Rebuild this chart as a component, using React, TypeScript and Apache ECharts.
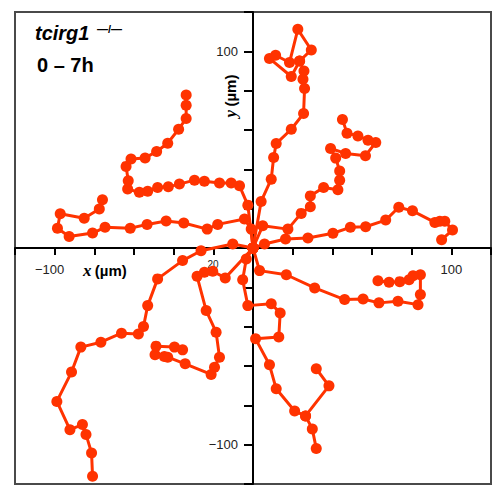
import React, { useEffect, useRef } from "react";
import * as echarts from "echarts";

const trackA: number[][] = [[0,0],[-2.6,21.8],[-6.8,31.6],[-11.0,33.0],[-16.9,33.0],[-24.5,33.9],[-29.5,34.5],[-37.1,32.5],[-42.7,31.1],[-48.1,30.8],[-53.1,28.9],[-57.3,28.3],[-63.2,30.0],[-62.9,34.2],[-64.0,41.5],[-61.5,45.2],[-54.4,45.8],[-48.6,49.1],[-43.0,53.3],[-37.5,60.4],[-33.7,65.8],[-33.7,72.6],[-33.7,77.8]];
const trackB: number[][] = [[0,0],[-0.9,9.6],[-4.3,14.7],[-17.8,12.0],[-23.1,9.6],[-34.9,12.7],[-43.8,13.7],[-53.4,12.0],[-61.9,10.0],[-74.6,10.5],[-80.9,7.6],[-92.7,5.9],[-98.6,10.0],[-97.2,17.4],[-85.1,15.1],[-77.5,19.8],[-75.9,24.5]];
const trackC: number[][] = [[0,0],[-10.2,2.0],[-26.2,-1.4],[-35.5,-6.4],[-48.1,-15.7],[-53.1,-29.3],[-55.2,-39.9],[-57.8,-43.7],[-66.3,-43.3],[-76.7,-47.9],[-86.8,-50.4],[-91.5,-63.1],[-98.9,-78.0],[-92.3,-92.4],[-86.0,-89.8],[-84.2,-94.8],[-81.4,-104.2],[-80.9,-116.1]];
const trackD: number[][] = [[0,0],[-14.0,-15.2],[-20.3,-11.8],[-24.5,-12.3],[-28.2,-14.4],[-23.6,-31.8],[-18.6,-42.8],[-16.9,-55.5],[-19.4,-60.6],[-21.1,-64.3],[-34.2,-58.9],[-43.0,-55.5],[-44.7,-55.2],[-49.4,-54.3],[-48.9,-49.9],[-39.6,-50.4],[-35.5,-51.8]];
const trackE: number[][] = [[0,0],[-3.4,-5.6],[-5.2,-16.2],[-2.6,-29.3],[9.2,-28.4],[13.7,-33.0],[13.0,-45.3],[1.3,-46.2],[8.3,-59.4],[11.7,-71.6],[21.0,-82.9],[26.5,-85.4],[29.9,-92.0],[31.9,-102.0]];
const trackE2: number[][] = [[26.5,-85.4],[38.3,-70.1],[31.9,-61.4]];
const trackF: number[][] = [[0,0],[3.3,-11.5],[16.8,-13.6],[31.1,-20.3],[46.2,-26.2],[55.5,-25.9],[63.5,-27.9],[73.1,-27.1],[83.2,-28.8],[84.4,-23.7],[84.4,-13.6],[80.7,-14.1],[78.7,-16.1],[74.0,-17.1],[68.6,-17.4],[63.0,-16.6]];
const trackG: number[][] = [[0,0],[5.8,2.0],[16.4,4.6],[27.7,5.1],[40.3,7.5],[49.1,10.5],[56.8,10.8],[66.9,14.2],[73.5,20.7],[80.4,18.9],[91.7,13.0],[94.2,13.6],[96.7,13.6],[100.6,9.1],[95.1,4.2]];
const trackH: number[][] = [[0,0],[4.9,11.3],[17.6,9.6],[24.3,17.6],[28.9,21.0],[28.9,26.5],[35.6,30.8],[42.8,29.6],[43.7,34.5],[43.7,39.2],[41.7,45.7],[39.1,50.6],[46.7,48.1],[56.7,46.9],[61.9,53.7],[58.0,54.8],[52.9,57.0],[47.4,58.4],[45.1,65.3]];
const trackI: number[][] = [[0,0],[4.1,23.7],[9.2,35.0],[10.4,46.0],[11.7,53.1],[19.3,60.4],[25.5,68.4],[26.0,81.1],[25.2,85.8],[25.7,90.0],[23.5,95.1],[19.3,87.2],[8.3,96.4],[11.4,98.0],[18.4,94.3],[22.6,111.2],[29.4,100.7],[23.5,95.1]];

const tracks = [trackA, trackB, trackC, trackD, trackE, trackE2, trackF, trackG, trackH, trackI];

const xLabels: Record<number, string> = { [-100]: "{n|−100}", 100: "{p|100}" };
const yLabels: Record<number, string> = { [-100]: "−100", 100: "100" };

const COLOR = "#ff3300";
const SANS = "'Liberation Sans', Arial, sans-serif";
const SERIF = "'Liberation Serif', 'Times New Roman', serif";

const GRID = { left: 15, top: 12, right: 10, bottom: 11 };
const W = 501, H = 495;

export default function App() {
  const ref = useRef<HTMLDivElement>(null);
  useEffect(() => {
    if (!ref.current) return;
    const chart = echarts.init(ref.current, null, { renderer: "svg" });
    const gh = H - GRID.top - GRID.bottom;
    const gw = W - GRID.left - GRID.right;
    chart.setOption({
      animation: false,
      grid: { ...GRID, show: true, borderColor: "#4a4a4a", borderWidth: 2, outerBoundsMode: "none", containLabel: false },
      xAxis: {
        type: "value", min: -120, max: 120, interval: 20,
        position: "bottom", offset: -gh / 2,
        axisLine: { onZero: false, lineStyle: { color: "#000", width: 2 } },
        axisTick: { show: true, length: 7, lineStyle: { color: "#000", width: 2 } },
        splitLine: { show: false },
        axisLabel: {
          margin: 15, fontSize: 13, color: "#222", fontFamily: SANS,
          formatter: (v: number) => xLabels[v] ?? "",
          rich: {
            n: { fontSize: 13, color: "#222", fontFamily: SANS, padding: [0, 10, 0, 0] },
            p: { fontSize: 13, color: "#222", fontFamily: SANS },
          },
        },
      },
      yAxis: {
        type: "value", min: -120, max: 120, interval: 20,
        position: "left", offset: -gw / 2,
        axisLine: { onZero: false, lineStyle: { color: "#000", width: 2 } },
        axisTick: { show: true, length: 9, lineStyle: { color: "#000", width: 2 } },
        splitLine: { show: false },
        axisLabel: {
          margin: 15, fontSize: 13, color: "#222", fontFamily: SANS,
          formatter: (v: number) => yLabels[v] ?? "",
        },
      },
      series: tracks.map((t) => ({
        type: "line",
        data: t,
        symbol: "circle",
        symbolSize: 11,
        showSymbol: true,
        color: COLOR,
        itemStyle: { color: COLOR },
        lineStyle: { color: COLOR, width: 3 },
        z: 3,
      })),
      graphic: [
        { type: "text", left: 35, top: 23, style: { text: "tcirg1", font: `italic bold 20px ${SANS}`, fill: "#000" } },
        { type: "text", left: 97, top: 23, style: { text: "—/—", font: `bold 11px ${SANS}`, fill: "#000" } },
        { type: "text", left: 37, top: 55, style: { text: "0 – 7h", font: `bold 20px ${SANS}`, fill: "#000" } },
        {
          type: "text", left: 83, top: 262,
          style: {
            text: "{a|x} {b|(µm)}",
            rich: {
              a: { font: `italic bold 17px ${SERIF}`, fill: "#000" },
              b: { font: `bold 15px ${SANS}`, fill: "#000" },
            },
          },
        },
        {
          type: "text", x: 230, y: 96, rotation: Math.PI / 2,
          style: {
            text: "{a|y} {b|(µm)}", align: "center", verticalAlign: "middle",
            rich: {
              a: { font: `italic bold 17px ${SERIF}`, fill: "#000" },
              b: { font: `bold 15px ${SANS}`, fill: "#000" },
            },
          },
        },
        { type: "text", x: 213, y: 264, style: { text: "20", font: `10px ${SANS}`, fill: "#222", align: "center", verticalAlign: "middle" } },
      ],
    });
    return () => chart.dispose();
  }, []);
  return <div ref={ref} style={{ width: W, height: H, position: "absolute", left: 0, top: 0 }} />;
}
